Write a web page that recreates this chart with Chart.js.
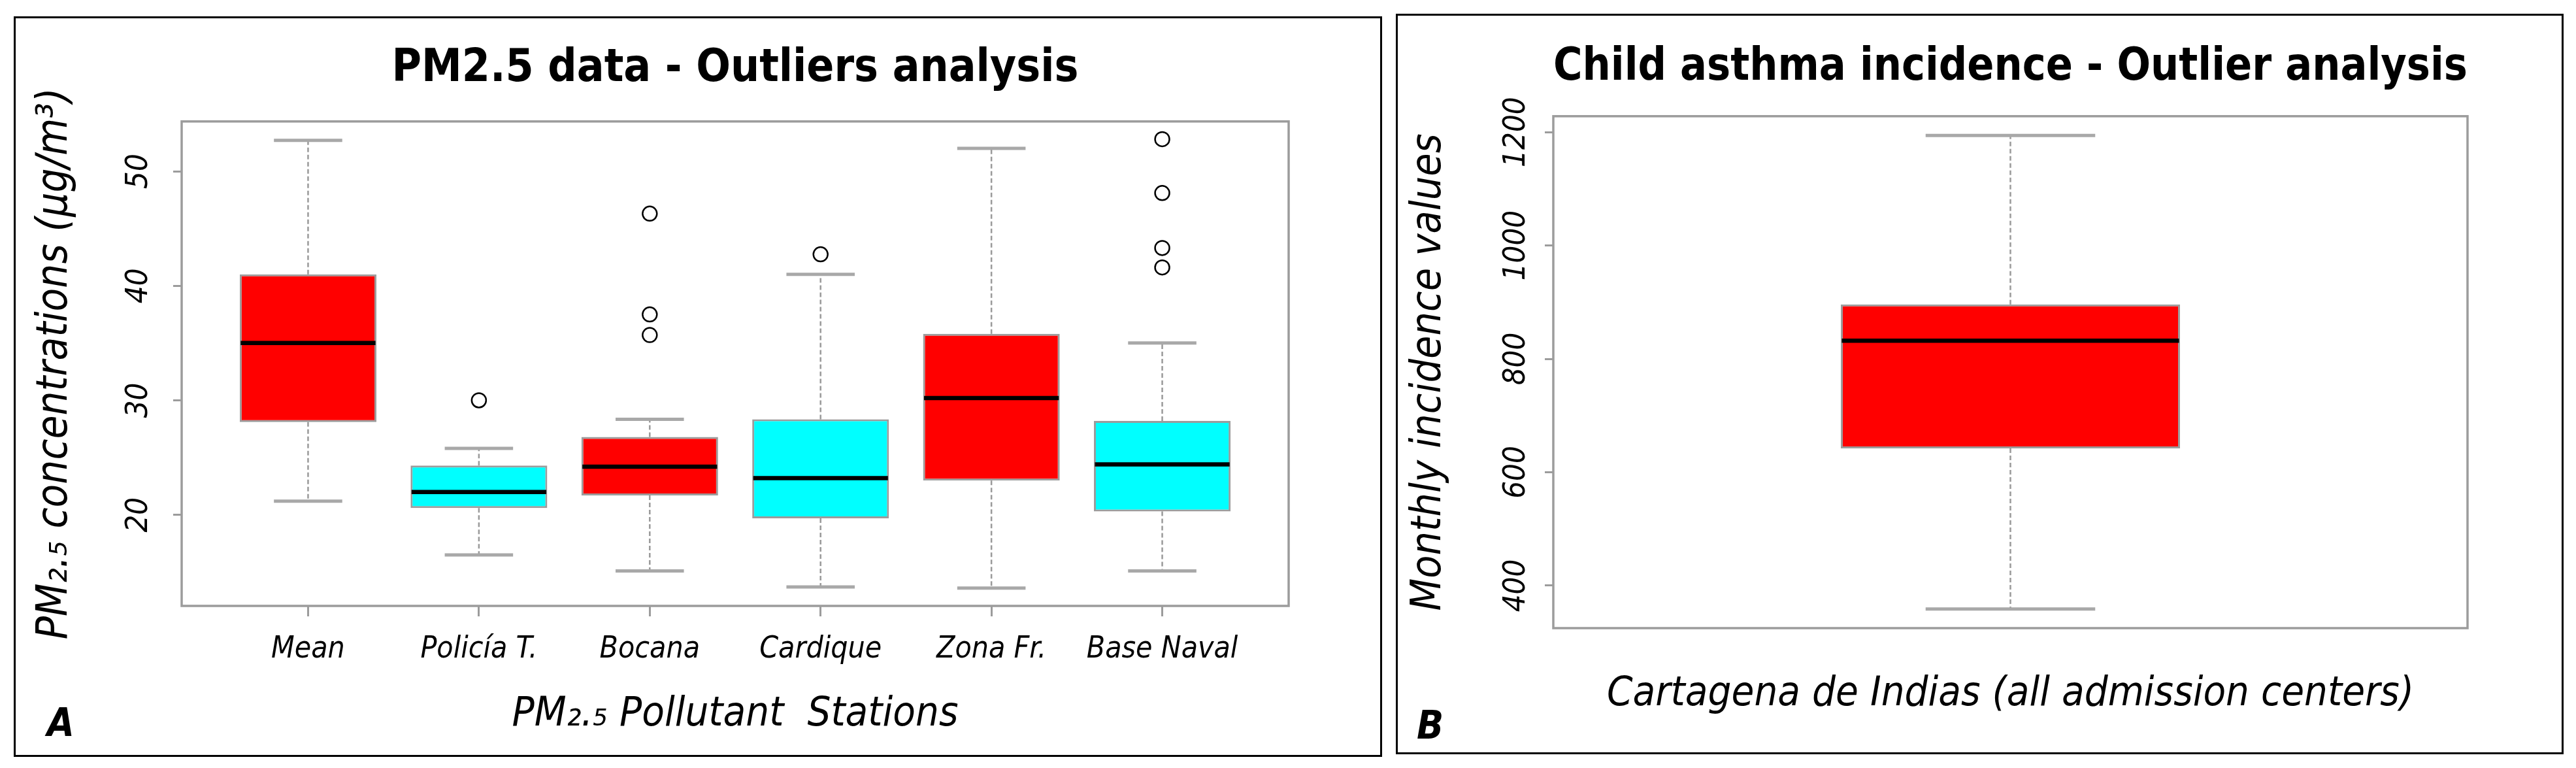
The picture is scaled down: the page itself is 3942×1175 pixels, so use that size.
<!DOCTYPE html>
<html>
<head>
<meta charset="utf-8">
<script src="https://cdn.jsdelivr.net/npm/chart.js@4.4.1/dist/chart.umd.min.js"></script>
<style>
  html, body { margin: 0; padding: 0; background: #fff; }
  body { width: 3942px; height: 1175px; position: relative; overflow: hidden; }
  .panel { position: absolute; border: 3px solid #000; background: #fff; }
  .panel canvas { display: block; }
  .lab { position: absolute; font-family: 'DejaVu Sans Condensed', 'DejaVu Sans', sans-serif; font-weight: bold; font-style: italic; font-size: 60px; line-height: 60px; color: #000; }
</style>
</head>
<body>
<div class="panel" style="left:21px;top:25px;width:2088px;height:1127px;"><canvas id="cA" width="2088" height="1127"></canvas></div>
<div class="panel" style="left:2136px;top:21px;width:1781px;height:1127px;"><canvas id="cB" width="1781" height="1127"></canvas></div>
<div class="lab" style="left:72px;top:1075px;">A</div>
<div class="lab" style="left:2168px;top:1079px;">B</div>
<script>
// ---------- Panel A data: PM2.5 stations ----------
const stations = ['Mean', 'Policía T.', 'Bocana', 'Cardique', 'Zona Fr.', 'Base Naval'];
const whiskerLowA  = [21.2, 16.5, 15.1, 13.7, 13.6, 15.1];
const q1A          = [28.1, 20.6, 21.7, 19.7, 23.0, 20.3];
const medianA      = [35.0, 22.0, 24.2, 23.2, 30.2, 24.4];
const q3A          = [41.0, 24.3, 26.8, 28.35, 35.8, 28.2];
const whiskerHighA = [52.7, 25.8, 28.35, 41.0, 52.0, 35.0];
const outlierStationA = ['Policía T.', 'Bocana', 'Bocana', 'Bocana', 'Cardique', 'Base Naval', 'Base Naval', 'Base Naval', 'Base Naval'];
const outlierValueA   = [30.0, 46.3, 37.5, 35.7, 42.75, 52.8, 48.1, 43.3, 41.6];
const boxColorA = ['#ff0000', '#00ffff', '#ff0000', '#00ffff', '#ff0000', '#00ffff'];
const yTicksA = [20, 30, 40, 50];

// ---------- Panel B data: child asthma incidence ----------
const categoriesB   = ['Cartagena de Indias (all admission centers)'];
const whiskerLowB   = [358.6];
const q1B           = [642];
const medianB       = [832];
const q3B           = [896];
const whiskerHighB  = [1194];
const boxColorB     = ['#ff0000'];
const yTicksB = [400, 600, 800, 1000, 1200];

const FF = "'DejaVu Sans Condensed', 'DejaVu Sans', sans-serif";
Chart.defaults.font.family = FF;
Chart.defaults.color = '#000';

function boxParts(low, high, med) {
  return {
    id: 'boxParts',
    beforeDatasetsDraw(chart) {
      const { ctx } = chart;
      const y = chart.scales.y;
      const bars = chart.getDatasetMeta(0).data;
      ctx.save();
      bars.forEach((bar, i) => {
        const p = bar.getProps(['x', 'y', 'base', 'width'], true);
        const top = Math.min(p.y, p.base), bot = Math.max(p.y, p.base);
        const yh = y.getPixelForValue(high[i]);
        const yl = y.getPixelForValue(low[i]);
        ctx.strokeStyle = '#9a9a9a';
        ctx.lineWidth = 2.5;
        ctx.setLineDash([7, 4]);
        ctx.beginPath();
        ctx.moveTo(p.x, top); ctx.lineTo(p.x, yh);
        ctx.moveTo(p.x, bot); ctx.lineTo(p.x, yl);
        ctx.stroke();
        ctx.setLineDash([]);
        ctx.strokeStyle = '#a8a8a8';
        ctx.lineWidth = 5;
        const c = p.width / 4;
        ctx.beginPath();
        ctx.moveTo(p.x - c, yh); ctx.lineTo(p.x + c, yh);
        ctx.moveTo(p.x - c, yl); ctx.lineTo(p.x + c, yl);
        ctx.stroke();
      });
      ctx.restore();
    },
    afterDatasetsDraw(chart) {
      const { ctx } = chart;
      const y = chart.scales.y;
      const bars = chart.getDatasetMeta(0).data;
      ctx.save();
      ctx.strokeStyle = '#000';
      ctx.lineWidth = 6.5;
      bars.forEach((bar, i) => {
        const p = bar.getProps(['x', 'width'], true);
        const ym = y.getPixelForValue(med[i]);
        ctx.beginPath();
        ctx.moveTo(p.x - p.width / 2 + 1.5, ym);
        ctx.lineTo(p.x + p.width / 2 - 1.5, ym);
        ctx.stroke();
      });
      ctx.restore();
    },
    afterDraw(chart) {
      const { ctx, chartArea: a } = chart;
      ctx.save();
      ctx.strokeStyle = '#9c9c9c';
      ctx.lineWidth = 3.5;
      ctx.strokeRect(a.left, a.top, a.right - a.left, a.bottom - a.top);
      ctx.restore();
    }
  };
}

// rotated y tick labels, placed from the y scale's own ticks
function yTickLabels(offset, size) {
  return {
    id: 'yTickLabels',
    afterDraw(chart) {
      const s = chart.scales.y;
      const ctx = chart.ctx;
      ctx.save();
      ctx.font = 'italic ' + size + 'px ' + FF;
      ctx.fillStyle = '#000';
      ctx.textAlign = 'center';
      ctx.textBaseline = 'middle';
      s.ticks.forEach((t, i) => {
        const py = s.getPixelForTick(i);
        const txt = (typeof t.label === 'string' && t.label !== '') ? t.label : String(t.value);
        ctx.save();
        ctx.translate(chart.chartArea.left - offset, py);
        ctx.rotate(-Math.PI / 2);
        ctx.fillText(txt, 0, 0);
        ctx.restore();
      });
      ctx.restore();
    }
  };
}

// ---------- Chart A ----------
new Chart(document.getElementById('cA'), {
  type: 'bar',
  data: {
    datasets: [
      {
        type: 'bar',
        data: stations.map((s, i) => ({ x: i + 1, y: [q1A[i], q3A[i]] })),
        backgroundColor: boxColorA,
        borderColor: 'rgba(90,90,90,0.6)',
        borderWidth: 3,
        borderSkipped: false,
        categoryPercentage: 1,
        barPercentage: 0.8,
        order: 2
      },
      {
        type: 'scatter',
        data: outlierStationA.map((s, k) => ({ x: stations.indexOf(s) + 1, y: outlierValueA[k] })),
        pointStyle: 'circle',
        pointRadius: 11,
        pointBorderWidth: 2.5,
        borderColor: '#000',
        backgroundColor: 'rgba(255,255,255,0)',
        order: 1
      }
    ]
  },
  options: {
    responsive: false,
    animation: false,
    events: [],
    layout: { padding: { left: 0, right: 140, top: 0, bottom: 0 } },
    plugins: {
      legend: { display: false },
      tooltip: { enabled: false },
      title: {
        display: true,
        fullSize: false,
        text: 'PM2.5 data - Outliers analysis',
        font: { size: 69, weight: 'bold', lineHeight: 1.2 },
        color: '#000',
        padding: { top: 37, bottom: 38 }
      }
    },
    scales: {
      x: {
        type: 'linear',
        min: 0.26,
        max: 6.74,
        offset: false,
        afterBuildTicks: s => { s.ticks = stations.map((c, i) => ({ value: i + 1 })); },
        afterFit: s => { s.height = 228; },
        ticks: {
          callback: v => stations[v - 1] ?? '',
          font: { size: 46, style: 'italic', lineHeight: 1.2 },
          color: '#000',
          padding: 23,
          minRotation: 0,
          maxRotation: 0,
          autoSkip: false
        },
        grid: { display: true, offset: false, drawOnChartArea: false, drawTicks: true, tickLength: 16, color: '#9c9c9c', lineWidth: 3 },
        border: { display: false },
        title: {
          display: true,
          text: 'PM₂.₅ Pollutant  Stations',
          font: { size: 63, style: 'italic', lineHeight: 1.2 },
          color: '#000',
          padding: { top: 0, bottom: 24 }
        }
      },
      y: {
        type: 'linear',
        min: 12.05,
        max: 54.35,
        beginAtZero: false,
        afterBuildTicks: s => { s.ticks = yTicksA.map(v => ({ value: v })); },
        afterFit: s => { s.width = 254; },
        ticks: { display: false, callback: v => String(v) },
        grid: { display: true, drawOnChartArea: false, drawTicks: true, tickLength: 13, color: '#9c9c9c', lineWidth: 3 },
        border: { display: false },
        title: {
          display: true,
          text: 'PM₂.₅ concentrations (µg/m³)',
          font: { size: 65, style: 'italic', lineHeight: 1.2 },
          color: '#000',
          padding: { top: 22, bottom: 0 }
        }
      }
    }
  },
  plugins: [boxParts(whiskerLowA, whiskerHighA, medianA), yTickLabels(65, 47)]
});

// ---------- Chart B ----------
new Chart(document.getElementById('cB'), {
  type: 'bar',
  data: {
    datasets: [
      {
        type: 'bar',
        data: categoriesB.map((c, i) => ({ x: i + 1, y: [q1B[i], q3B[i]] })),
        backgroundColor: boxColorB,
        borderColor: 'rgba(90,90,90,0.6)',
        borderWidth: 3,
        borderSkipped: false,
        categoryPercentage: 1,
        barPercentage: 0.371
      }
    ]
  },
  options: {
    responsive: false,
    animation: false,
    events: [],
    layout: { padding: { left: 0, right: 144, top: 0, bottom: 0 } },
    plugins: {
      legend: { display: false },
      tooltip: { enabled: false },
      title: {
        display: true,
        fullSize: false,
        text: 'Child asthma incidence - Outlier analysis',
        font: { size: 69, weight: 'bold', lineHeight: 1.2 },
        color: '#000',
        padding: { top: 39, bottom: 32 }
      }
    },
    scales: {
      x: {
        type: 'linear',
        min: 0.46,
        max: 1.54,
        offset: false,
        afterBuildTicks: s => { s.ticks = categoriesB.map((c, i) => ({ value: i + 1 })); },
        afterFit: s => { s.height = 190; },
        ticks: { display: false },
        grid: { display: false },
        border: { display: false },
        title: {
          display: true,
          text: categoriesB[0],
          font: { size: 63, style: 'italic', lineHeight: 1.2 },
          color: '#000',
          padding: { top: 0, bottom: 51 }
        }
      },
      y: {
        type: 'linear',
        min: 325,
        max: 1228,
        beginAtZero: false,
        afterBuildTicks: s => { s.ticks = yTicksB.map(v => ({ value: v })); },
        afterFit: s => { s.width = 238; },
        ticks: { display: false, callback: v => String(v) },
        grid: { display: true, drawOnChartArea: false, drawTicks: true, tickLength: 13, color: '#9c9c9c', lineWidth: 3 },
        border: { display: false },
        title: {
          display: true,
          text: 'Monthly incidence values',
          font: { size: 64, style: 'italic', lineHeight: 1.2 },
          color: '#000',
          padding: { top: 10, bottom: 0 }
        }
      }
    }
  },
  plugins: [boxParts(whiskerLowB, whiskerHighB, medianB), yTickLabels(56, 47)]
});
</script>
</body>
</html>
